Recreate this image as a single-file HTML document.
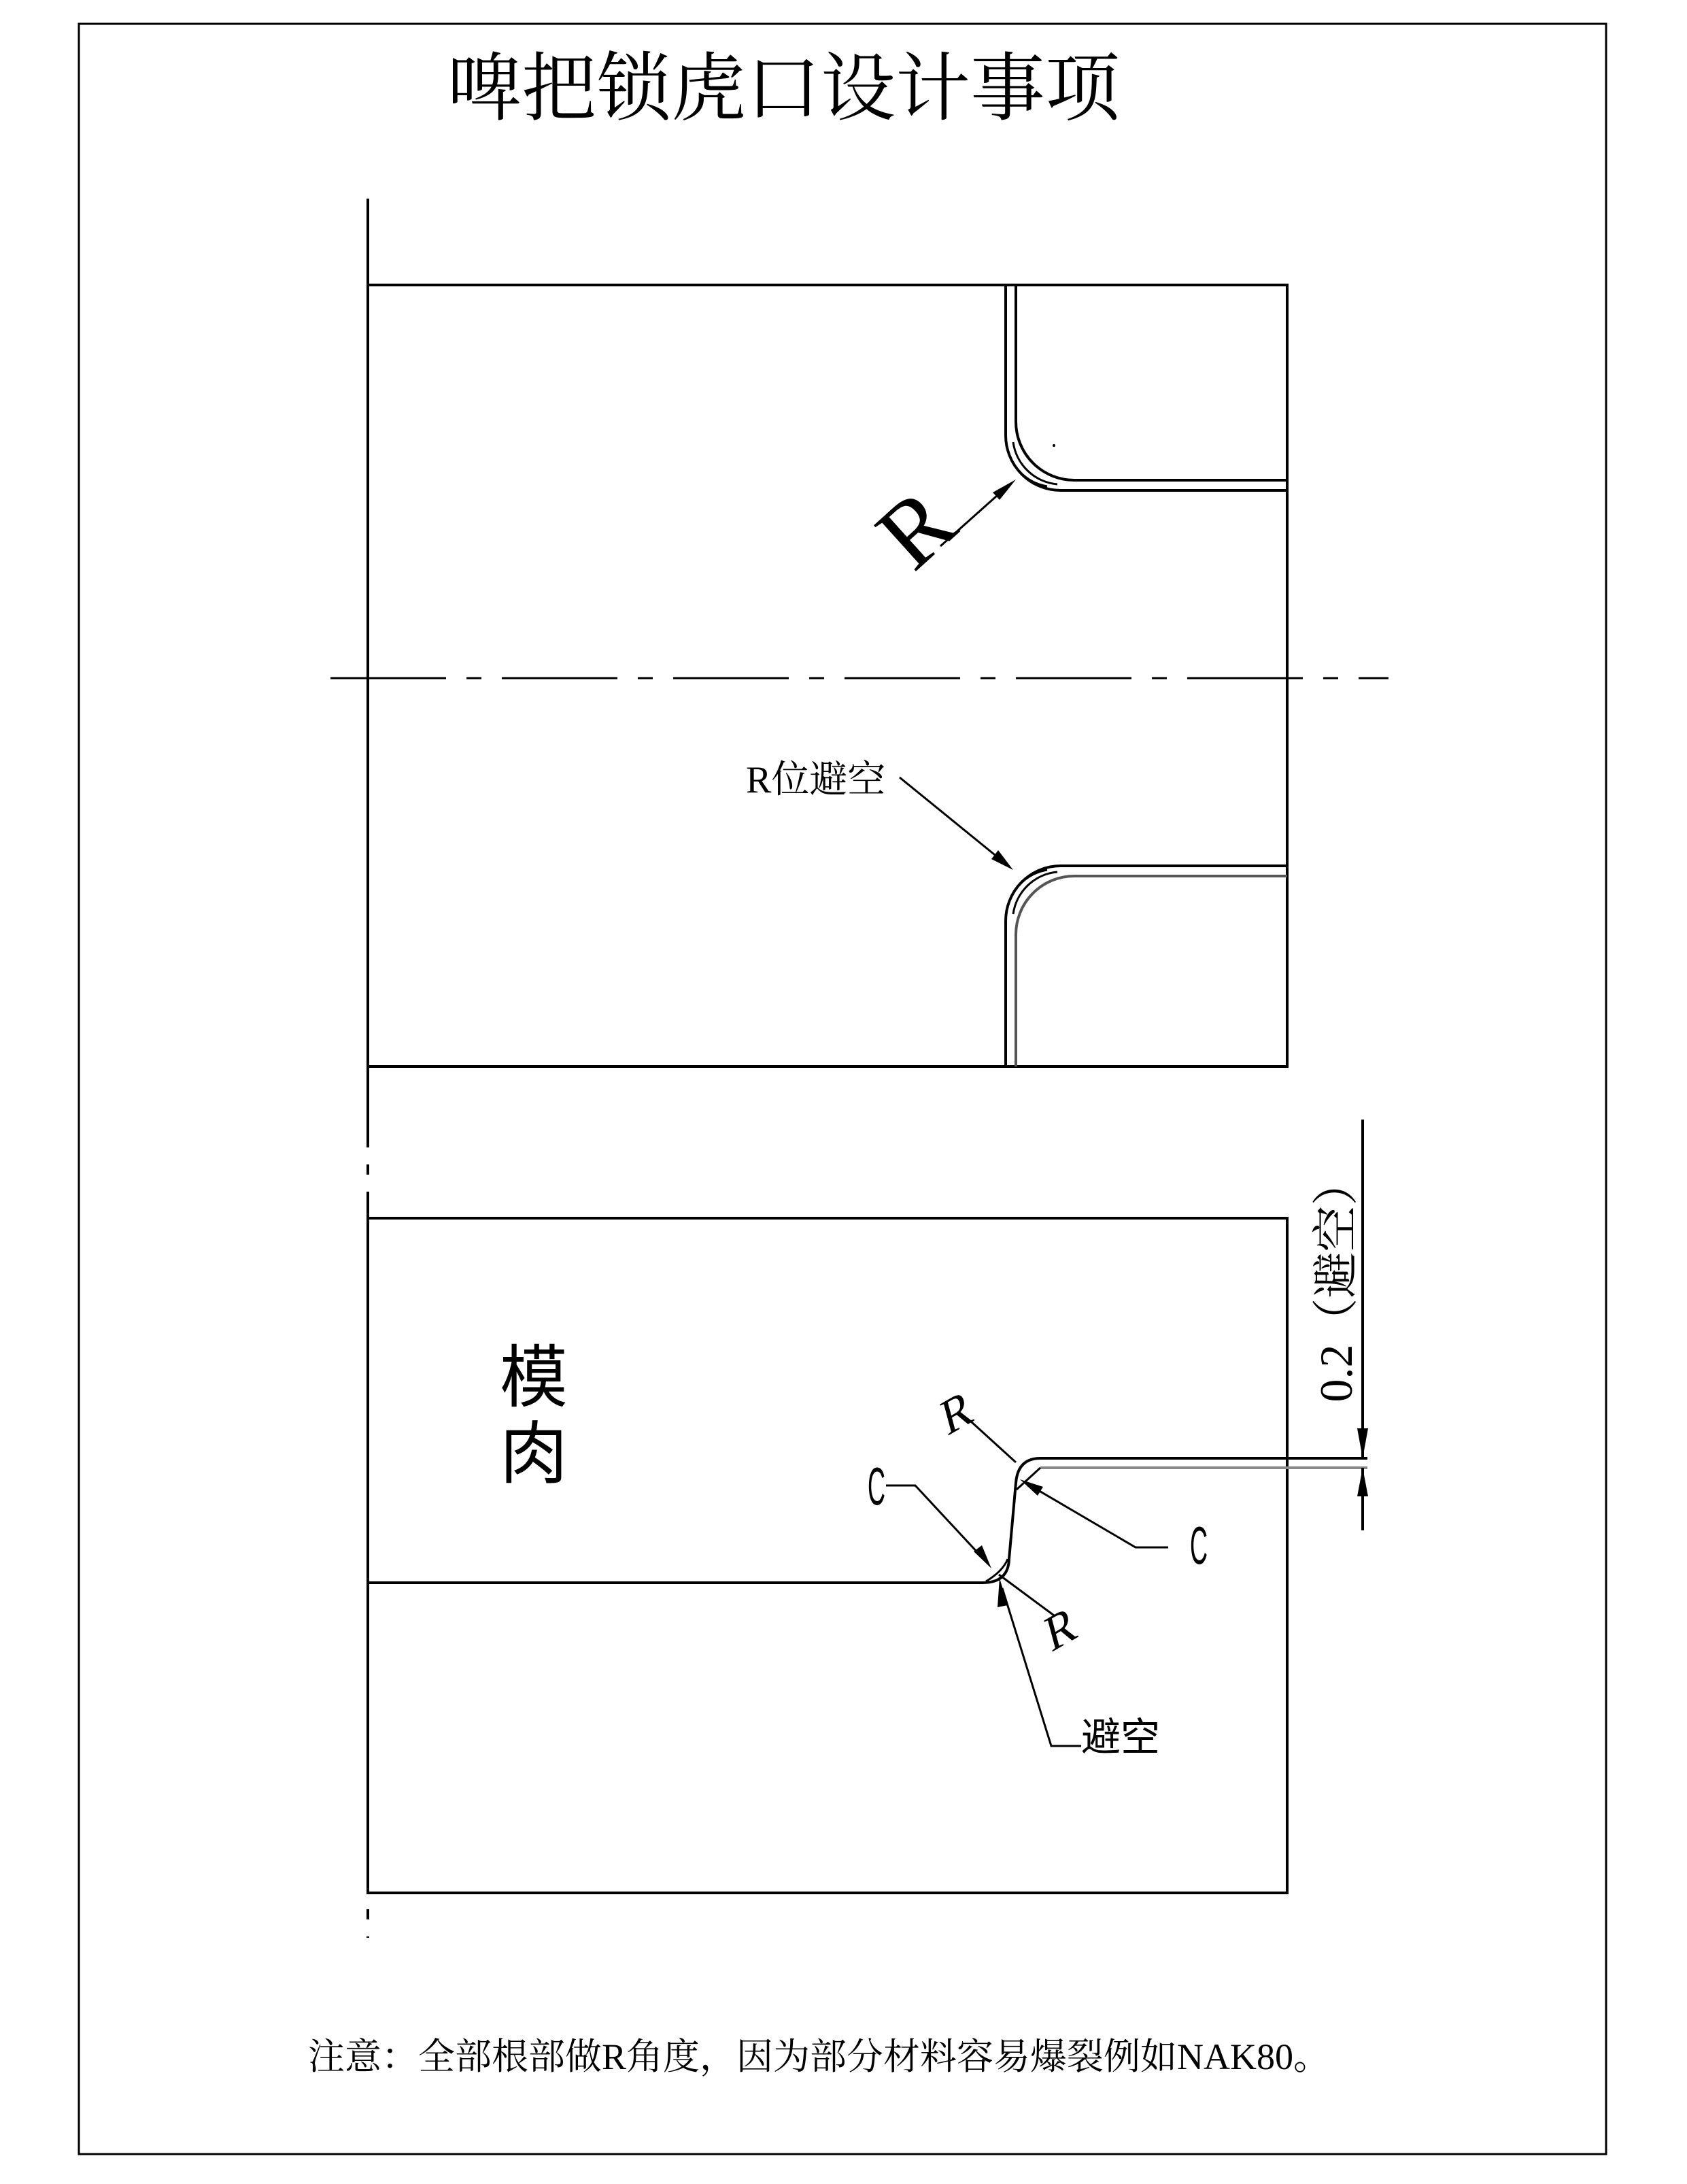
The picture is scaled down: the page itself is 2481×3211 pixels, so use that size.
<!DOCTYPE html>
<html><head><meta charset="utf-8"><style>
html,body{margin:0;padding:0;background:#fff;}
svg{display:block}
</style></head><body>
<svg width="2481" height="3211" viewBox="0 0 2481 3211" xmlns="http://www.w3.org/2000/svg">
<rect x="116" y="35" width="2246" height="3132" fill="none" stroke="#000" stroke-width="3"/>
<text x="1152" y="168" font-family="'Liberation Serif','Noto Serif CJK SC',serif" font-size="110" text-anchor="middle">啤把锁虎口设计事项</text>

<!-- center lines -->
<line x1="541" y1="292" x2="541" y2="2849" stroke="#000" stroke-width="4" stroke-dasharray="300,25,15,25"/>
<line x1="486" y1="997" x2="2042" y2="997" stroke="#000" stroke-width="3" stroke-dasharray="170,30,22,30"/>

<!-- top rect -->
<rect x="541" y="419" width="1352" height="1149" fill="none" stroke="#000" stroke-width="4"/>
<g fill="none" stroke="#000" stroke-width="4">
<path d="M1479 419 V640 A81 81 0 0 0 1560 721 H1893"/>
<path d="M1494 419 V620 A86 86 0 0 0 1580 706 H1893"/>
<path d="M1483 665 A72 72 0 0 0 1540 715" stroke-width="3"/>
<path d="M1490 650 A72 72 0 0 0 1555 712" stroke-width="3"/>
</g>
<circle cx="1550" cy="655" r="2" fill="#000"/>
<line x1="1383" y1="803" x2="1485" y2="712" stroke="#000" stroke-width="3"/>
<polygon points="1494,705 1470,735 1460,724" fill="#000"/>
<text x="0" y="0" transform="translate(1378,812) rotate(-42)" font-family="'Liberation Serif',serif" font-size="140" text-anchor="middle">R</text>

<!-- lower corner -->
<g fill="none" stroke="#000" stroke-width="4">
<path d="M1479 1568 V1354 A81 81 0 0 1 1560 1273 H1893"/>
<path d="M1494 1568 V1374 A86 86 0 0 1 1580 1288 H1893" stroke="#555"/>
<path d="M1483 1329 A72 72 0 0 1 1540 1279" stroke-width="3"/>
<path d="M1490 1344 A72 72 0 0 1 1555 1282" stroke-width="3"/>
</g>
<text x="1097" y="1165" font-family="'Liberation Serif','Noto Serif CJK SC',serif" font-size="56">R位避空</text>
<line x1="1323" y1="1143" x2="1478" y2="1269" stroke="#000" stroke-width="3"/>
<polygon points="1490,1279 1458,1263 1468,1250" fill="#000"/>

<!-- bottom rect -->
<rect x="541" y="1791" width="1352" height="992" fill="none" stroke="#000" stroke-width="4"/>
<text x="735" y="2060" font-family="'Liberation Sans','Noto Sans CJK SC',sans-serif" font-size="100">模</text>
<text x="735" y="2172" font-family="'Liberation Sans','Noto Sans CJK SC',sans-serif" font-size="100">肉</text>

<g fill="none" stroke="#000" stroke-width="4">
<path d="M541 2327 H1445 Q1483 2327 1484 2292 L1494 2180 Q1497 2144 1530 2144 H2011"/>
<path d="M1530 2158 H2011" stroke="#888"/>
<path d="M1495 2190 L1530 2158" stroke-width="3"/>
<path d="M1450 2325 Q1475 2310 1482 2292" stroke-width="3"/>
</g>
<line x1="2004" y1="1646" x2="2004" y2="2144" stroke="#000" stroke-width="4"/>
<polygon points="2004,2144 1996,2100 2012,2100" fill="#000"/>
<line x1="2004" y1="2158" x2="2004" y2="2250" stroke="#000" stroke-width="4"/>
<polygon points="2004,2158 1996,2200 2012,2200" fill="#000"/>
<text x="0" y="0" transform="translate(1988,1883) rotate(-90)" font-family="'Liberation Serif','Noto Serif CJK SC',serif" font-size="68" text-anchor="middle">0.2（避空）</text>

<text x="0" y="0" transform="translate(1413,2100) rotate(-30) skewX(-15)" font-family="'Liberation Serif',serif" font-size="70" text-anchor="middle">R</text>
<line x1="1428" y1="2090" x2="1494" y2="2150" stroke="#000" stroke-width="3"/>
<text x="0" y="0" transform="translate(1289,2212) scale(0.6,1.3)" font-family="'Liberation Sans',sans-serif" font-size="60" text-anchor="middle">C</text>
<polyline points="1303,2184 1346,2184 1452,2298" fill="none" stroke="#000" stroke-width="3"/>
<polygon points="1458,2306 1432,2281 1444,2272" fill="#000"/>
<text x="0" y="0" transform="translate(1763,2299) scale(0.6,1.3)" font-family="'Liberation Sans',sans-serif" font-size="60" text-anchor="middle">C</text>
<polyline points="1718,2275 1670,2275 1508,2180" fill="none" stroke="#000" stroke-width="3"/>
<polygon points="1500,2175 1534,2186 1526,2199" fill="#000"/>
<text x="0" y="0" transform="translate(1566,2418) rotate(-30) skewX(-15)" font-family="'Liberation Serif',serif" font-size="70" text-anchor="middle">R</text>
<line x1="1469" y1="2315" x2="1550" y2="2375" stroke="#000" stroke-width="3"/>
<polyline points="1590,2567 1546,2567 1474,2335" fill="none" stroke="#000" stroke-width="3"/>
<polygon points="1470,2320 1482,2360 1467,2363" fill="#000"/>
<text x="1590" y="2574" font-family="'Liberation Sans','Noto Sans CJK SC',sans-serif" font-size="58">避空</text>

<text x="453" y="3042" font-family="'Liberation Serif','Noto Serif CJK SC',serif" font-size="54">注意：全部根部做R角度，因为部分材料容易爆裂例如NAK80。</text>
</svg>
</body></html>
